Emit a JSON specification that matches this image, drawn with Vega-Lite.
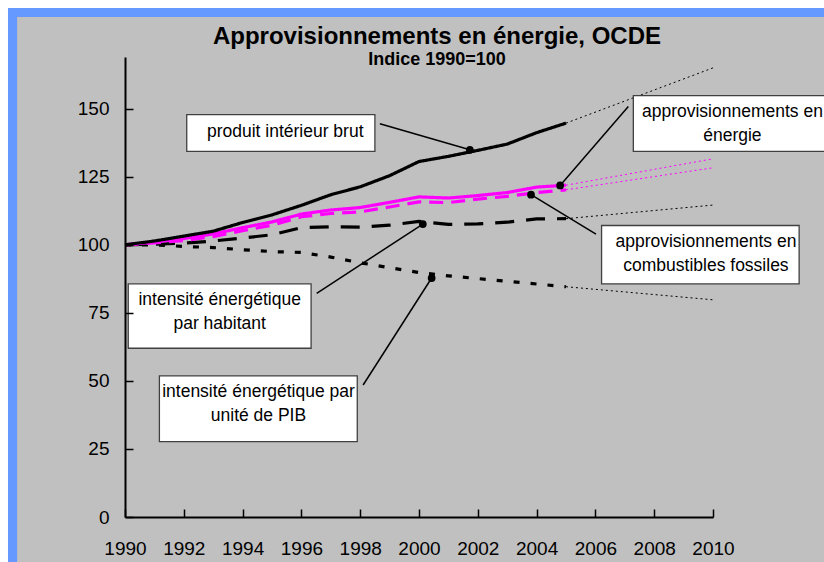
{
  "$schema": "https://vega.github.io/schema/vega-lite/v6.json",
  "width": 588,
  "height": 460,
  "autosize": "none",
  "padding": {"left": 125, "top": 57, "right": 111, "bottom": 45},
  "background": "white",
  "config": {
    "view": {"stroke": null},
    "font": "Liberation Sans, Arial, sans-serif"
  },
  "title": {
    "text": "Approvisionnements en énergie, OCDE",
    "subtitle": "Indice 1990=100",
    "anchor": "middle",
    "frame": "group",
    "dx": 18,
    "offset": -61,
    "fontSize": 24,
    "fontWeight": "bold",
    "color": "black",
    "subtitleFontSize": 18,
    "subtitleFontWeight": "bold",
    "subtitleColor": "black",
    "subtitlePadding": 2,
    "zindex": 2
  },
  "datasets": {
    "series": [
      {"series": "Par PIB", "year": 1990, "value": 100},
      {"series": "Par PIB", "year": 1991, "value": 100},
      {"series": "Par PIB", "year": 1992, "value": 99.4},
      {"series": "Par PIB", "year": 1993, "value": 99},
      {"series": "Par PIB", "year": 1994, "value": 98.2},
      {"series": "Par PIB", "year": 1995, "value": 97.5},
      {"series": "Par PIB", "year": 1996, "value": 97.2},
      {"series": "Par PIB", "year": 1997, "value": 95.5},
      {"series": "Par PIB", "year": 1998, "value": 93.4},
      {"series": "Par PIB", "year": 1999, "value": 91.6},
      {"series": "Par PIB", "year": 2000, "value": 89.8},
      {"series": "Par PIB", "year": 2001, "value": 88.6},
      {"series": "Par PIB", "year": 2002, "value": 87.6},
      {"series": "Par PIB", "year": 2003, "value": 86.6},
      {"series": "Par PIB", "year": 2004, "value": 85.6},
      {"series": "Par PIB", "year": 2005, "value": 84.6},
      {"series": "Par habitant", "year": 1990, "value": 100},
      {"series": "Par habitant", "year": 1991, "value": 100.2},
      {"series": "Par habitant", "year": 1992, "value": 100.6},
      {"series": "Par habitant", "year": 1993, "value": 101.4},
      {"series": "Par habitant", "year": 1994, "value": 102.5},
      {"series": "Par habitant", "year": 1995, "value": 103.7},
      {"series": "Par habitant", "year": 1996, "value": 106.3},
      {"series": "Par habitant", "year": 1997, "value": 106.6},
      {"series": "Par habitant", "year": 1998, "value": 106.5},
      {"series": "Par habitant", "year": 1999, "value": 107.2},
      {"series": "Par habitant", "year": 2000, "value": 108.6},
      {"series": "Par habitant", "year": 2001, "value": 107.5},
      {"series": "Par habitant", "year": 2002, "value": 107.7},
      {"series": "Par habitant", "year": 2003, "value": 108.3},
      {"series": "Par habitant", "year": 2004, "value": 109.5},
      {"series": "Par habitant", "year": 2005, "value": 109.6},
      {"series": "Fossiles", "year": 1990, "value": 100},
      {"series": "Fossiles", "year": 1991, "value": 100.7},
      {"series": "Fossiles", "year": 1992, "value": 101.6},
      {"series": "Fossiles", "year": 1993, "value": 103},
      {"series": "Fossiles", "year": 1994, "value": 105.2},
      {"series": "Fossiles", "year": 1995, "value": 107.2},
      {"series": "Fossiles", "year": 1996, "value": 110.3},
      {"series": "Fossiles", "year": 1997, "value": 111.5},
      {"series": "Fossiles", "year": 1998, "value": 112.1},
      {"series": "Fossiles", "year": 1999, "value": 113.9},
      {"series": "Fossiles", "year": 2000, "value": 115.8},
      {"series": "Fossiles", "year": 2001, "value": 115.5},
      {"series": "Fossiles", "year": 2002, "value": 116.8},
      {"series": "Fossiles", "year": 2003, "value": 117.8},
      {"series": "Fossiles", "year": 2004, "value": 119.2},
      {"series": "Fossiles", "year": 2005, "value": 120.2},
      {"series": "Énergie", "year": 1990, "value": 100},
      {"series": "Énergie", "year": 1991, "value": 101},
      {"series": "Énergie", "year": 1992, "value": 102.3},
      {"series": "Énergie", "year": 1993, "value": 104},
      {"series": "Énergie", "year": 1994, "value": 106.3},
      {"series": "Énergie", "year": 1995, "value": 108.4},
      {"series": "Énergie", "year": 1996, "value": 111.3},
      {"series": "Énergie", "year": 1997, "value": 112.8},
      {"series": "Énergie", "year": 1998, "value": 113.7},
      {"series": "Énergie", "year": 1999, "value": 115.6},
      {"series": "Énergie", "year": 2000, "value": 117.6},
      {"series": "Énergie", "year": 2001, "value": 117.2},
      {"series": "Énergie", "year": 2002, "value": 118.1},
      {"series": "Énergie", "year": 2003, "value": 119.2},
      {"series": "Énergie", "year": 2004, "value": 121.2},
      {"series": "Énergie", "year": 2005, "value": 121.9},
      {"series": "PIB", "year": 1990, "value": 100},
      {"series": "PIB", "year": 1991, "value": 101.4},
      {"series": "PIB", "year": 1992, "value": 103.2},
      {"series": "PIB", "year": 1993, "value": 105},
      {"series": "PIB", "year": 1994, "value": 108.2},
      {"series": "PIB", "year": 1995, "value": 111},
      {"series": "PIB", "year": 1996, "value": 114.5},
      {"series": "PIB", "year": 1997, "value": 118.4},
      {"series": "PIB", "year": 1998, "value": 121.3},
      {"series": "PIB", "year": 1999, "value": 125.4},
      {"series": "PIB", "year": 2000, "value": 130.6},
      {"series": "PIB", "year": 2001, "value": 132.5},
      {"series": "PIB", "year": 2002, "value": 134.7},
      {"series": "PIB", "year": 2003, "value": 137},
      {"series": "PIB", "year": 2004, "value": 141.2},
      {"series": "PIB", "year": 2005, "value": 144.7}
    ],
    "proj": [
      {"series": "PIB", "year": 2005, "value": 144.7},
      {"series": "PIB", "year": 2010, "value": 165},
      {"series": "Énergie", "year": 2005, "value": 121.9},
      {"series": "Énergie", "year": 2010, "value": 131.6},
      {"series": "Fossiles", "year": 2005, "value": 120.2},
      {"series": "Fossiles", "year": 2010, "value": 128.3},
      {"series": "Par habitant", "year": 2005, "value": 109.6},
      {"series": "Par habitant", "year": 2010, "value": 114.6},
      {"series": "Par PIB", "year": 2005, "value": 84.6},
      {"series": "Par PIB", "year": 2010, "value": 79.8}
    ],
    "boxes": [
      {"label": "produit intérieur brut", "x1": 1992.1, "x2": 1998.5, "y1": 134.3, "y2": 147.8, "tx": 1995.45, "ty": 141.3},
      {"label": "approvisionnements en\nénergie", "x1": 2007.29, "x2": 2016, "y1": 134.3, "y2": 154.8, "tx": 2010.66, "ty": 148.9},
      {"label": "approvisionnements en\ncombustibles fossiles", "x1": 2006.21, "x2": 2012.93, "y1": 85.66, "y2": 107.1, "tx": 2009.76, "ty": 101.0},
      {"label": "intensité énergétique\npar habitant", "x1": 1990.11, "x2": 1996.33, "y1": 62.0, "y2": 85.66, "tx": 1993.22, "ty": 79.6},
      {"label": "intensité énergétique par\nunité de PIB", "x1": 1991.17, "x2": 1997.9, "y1": 27.68, "y2": 51.84, "tx": 1994.54, "ty": 45.9}
    ],
    "pointers": [
      {"x1": 1998.67, "y1": 144.5, "x2": 2001.73, "y2": 134.9},
      {"x1": 2007.12, "y1": 150.8, "x2": 2004.8, "y2": 121.8},
      {"x1": 2006.02, "y1": 103.9, "x2": 2003.81, "y2": 118.4},
      {"x1": 1996.52, "y1": 82.2, "x2": 2000.13, "y2": 107.6},
      {"x1": 1998.1, "y1": 48.5, "x2": 2000.43, "y2": 87.8}
    ]
  },
  "layer": [
    {
      "data": {"values": [{}]},
      "mark": {"type": "rect", "fill": "#6699FF"},
      "encoding": {
        "x": {"datum": 1986.02, "type": "quantitative", "scale": {"domain": [1990, 2010], "nice": false, "zero": false}},
        "x2": {"datum": 2016},
        "y": {"datum": 187.0, "type": "quantitative", "scale": {"domain": [0, 169], "nice": false}},
        "y2": {"datum": -20}
      }
    },
    {
      "data": {"values": [{}]},
      "mark": {"type": "rect", "fill": "#C0C0C0"},
      "encoding": {
        "x": {"datum": 1986.33, "type": "quantitative"},
        "x2": {"datum": 2016},
        "y": {"datum": 183.7, "type": "quantitative"},
        "y2": {"datum": -20}
      }
    },
    {
      "data": {"name": "proj"},
      "mark": {"type": "line", "strokeWidth": 1, "strokeDash": [2, 3]},
      "encoding": {
        "x": {"field": "year", "type": "quantitative"},
        "y": {"field": "value", "type": "quantitative"},
        "detail": {"field": "series"},
        "color": {"field": "series", "type": "nominal", "legend": null,
          "scale": {"domain": ["Par PIB", "Par habitant", "Fossiles", "Énergie", "PIB"], "range": ["#000000", "#000000", "#FF00FF", "#FF00FF", "#000000"]}}
      }
    },
    {
      "data": {"name": "series"},
      "mark": {"type": "line", "strokeWidth": 3.2, "strokeCap": "butt"},
      "encoding": {
        "x": {"field": "year", "type": "quantitative",
          "axis": {"values": [1990, 1992, 1994, 1996, 1998, 2000, 2002, 2004, 2006, 2008, 2010], "format": "d", "title": null, "grid": false, "zindex": 1,
            "domainColor": "black", "domainWidth": 2, "tickColor": "black", "tickWidth": 1.5, "tickSize": -8,
            "labelFontSize": 19, "labelColor": "black", "labelPadding": 30, "labelFlush": false}},
        "y": {"field": "value", "type": "quantitative",
          "axis": {"values": [0, 25, 50, 75, 100, 125, 150], "title": null, "grid": false, "zindex": 1,
            "domainColor": "black", "domainWidth": 2, "tickColor": "black", "tickWidth": 1.5, "tickSize": -8,
            "labelFontSize": 19, "labelColor": "black", "labelPadding": 24, "labelFlush": false}},
        "detail": {"field": "series"},
        "color": {"field": "series", "type": "nominal", "legend": null},
        "strokeDash": {"field": "series", "type": "nominal", "legend": null,
          "scale": {"domain": ["Par PIB", "Par habitant", "Fossiles", "Énergie", "PIB"], "range": [[6, 11], [19, 12], [14, 8], [1, 0], [1, 0]]}}
      }
    },
    {
      "data": {"name": "pointers"},
      "mark": {"type": "rule", "color": "black", "strokeWidth": 1.5},
      "encoding": {
        "x": {"field": "x1", "type": "quantitative"},
        "y": {"field": "y1", "type": "quantitative"},
        "x2": {"field": "x2"},
        "y2": {"field": "y2"}
      }
    },
    {
      "data": {"name": "pointers"},
      "mark": {"type": "point", "filled": true, "color": "black", "size": 60, "opacity": 1},
      "encoding": {
        "x": {"field": "x2", "type": "quantitative"},
        "y": {"field": "y2", "type": "quantitative"}
      }
    },
    {
      "data": {"name": "boxes"},
      "mark": {"type": "rect", "fill": "white", "stroke": "#404040", "strokeWidth": 1.3},
      "encoding": {
        "x": {"field": "x1", "type": "quantitative"},
        "x2": {"field": "x2"},
        "y": {"field": "y1", "type": "quantitative"},
        "y2": {"field": "y2"}
      }
    },
    {
      "data": {"name": "boxes"},
      "mark": {"type": "text", "fontSize": 17.5, "color": "black", "align": "center", "baseline": "middle", "lineBreak": "\n", "lineHeight": 24},
      "encoding": {
        "x": {"field": "tx", "type": "quantitative"},
        "y": {"field": "ty", "type": "quantitative"},
        "text": {"field": "label"}
      }
    }
  ]
}
